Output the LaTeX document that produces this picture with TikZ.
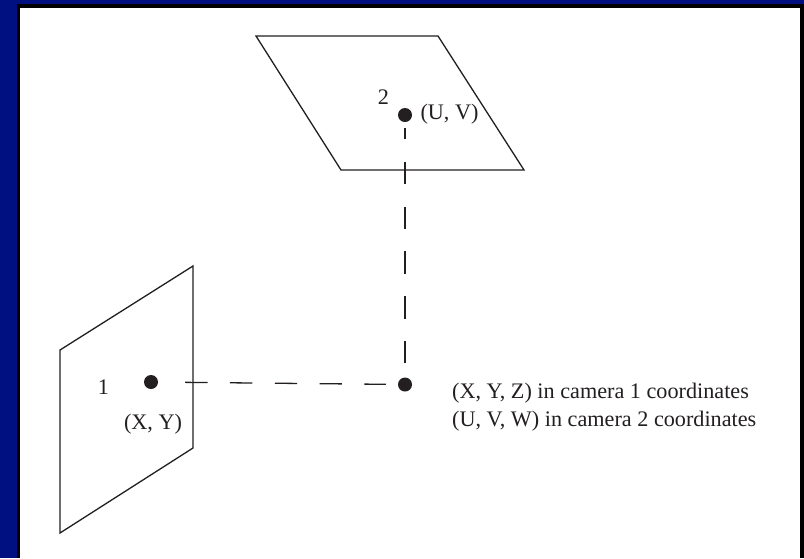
\documentclass[tikz,border=0pt]{standalone}
\usepackage{fontspec}
\setmainfont{Liberation Serif}
\usepackage{xcolor}
\usetikzlibrary{positioning}
\definecolor{slidenavy}{RGB}{0,16,128}
\definecolor{inkgray}{RGB}{35,31,32}

\begin{document}
\begin{tikzpicture}[
  x=1pt, y=-1pt,
  every node/.style={font=\fontsize{22.2}{27.5}\selectfont, text=inkgray, inner sep=0pt},
  plane/.style={draw=inkgray, line width=1.3pt, line join=miter},
  dot/.style={circle, fill=inkgray, minimum size=14pt},
  ray/.style={draw=inkgray, line width=1.3pt, dash pattern=on 22.4pt off 22.4pt}
]
\useasboundingbox (0,0) rectangle (804,558);

%% Slide frame
\fill[slidenavy] (0,0) rectangle (804,558);
\fill[black] (17,4) rectangle (804,558);
\fill[white] (20,8) rectangle (800,558);

%% Image planes
\draw[plane] (256,36) -- (438,36) -- (524,170) -- (341,170) -- cycle;
\draw[plane] (60,350) -- (193,266) -- (193,448) -- (60,533) -- cycle;

%% Points
\node[dot] (pa) at (151,382) {};
\node[dot] (pb) at (405,115) {};
\node[dot] (pc) at (405,384.5) {};

%% Labels
\node (la) at (103.5,387) {1};
\node (lb) at (383.5,97.5) {2};
\node (xy) at (153,424.5) {(X, Y)};
\node (uv) at (449.5,114.5) {(U, V)};
\node[align=left, anchor=west] (coords) at (452,407)
    {(X, Y, Z) in camera 1 coordinates\\(U, V, W) in camera 2 coordinates};

%% Dashed rays
\draw[ray, shorten <=27pt, shorten >=12pt] (pa) -- (pc);
\draw[ray, shorten <=14pt, shorten >=6pt] (pc) -- (pb);
\end{tikzpicture}
\end{document}
